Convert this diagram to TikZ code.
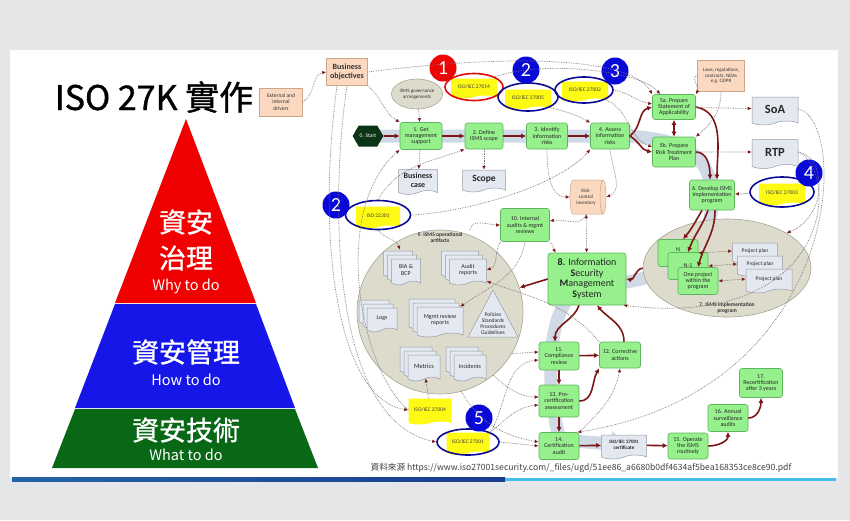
\documentclass[tikz,border=0pt]{standalone}
\usepackage{fontspec}
\setmainfont{Carlito}
\newfontfamily\cjk{Noto Sans CJK TC}
\newfontfamily\cjkmed[FakeBold=1]{Noto Sans CJK TC}
\usetikzlibrary{arrows.meta,shapes.geometric,shapes.symbols,shadows,positioning}

\definecolor{slidegray}{RGB}{229,230,232}
\definecolor{pyrred}{RGB}{240,0,0}
\definecolor{pyrblue}{RGB}{22,22,232}
\definecolor{pyrgreen}{RGB}{8,104,22}
\definecolor{procgreen}{RGB}{150,240,140}
\definecolor{procedge}{RGB}{95,180,95}
\definecolor{startgreen}{RGB}{12,52,22}
\definecolor{flowred}{RGB}{125,22,22}
\definecolor{dotgray}{RGB}{125,115,115}
\definecolor{peach}{RGB}{250,217,192}
\definecolor{peachedge}{RGB}{205,165,135}
\definecolor{docfill}{RGB}{228,232,240}
\definecolor{docedge}{RGB}{150,155,165}
\definecolor{isoyellow}{RGB}{255,250,20}
\definecolor{ringblue}{RGB}{12,12,150}
\definecolor{ringred}{RGB}{225,10,10}
\definecolor{badgeblue}{RGB}{8,8,215}
\definecolor{badgered}{RGB}{235,5,5}
\definecolor{ellfill}{RGB}{220,219,204}
\definecolor{elledge}{RGB}{165,165,150}
\definecolor{bandgray}{RGB}{208,218,230}
\definecolor{linedark}{RGB}{25,60,140}
\definecolor{linelight}{RGB}{65,190,235}

\begin{document}
\begin{tikzpicture}[x=1pt,y=1pt,
    procbox/.style={rectangle, rounded corners=2.5pt, draw=procedge, fill=procgreen, line width=0.6pt,
      align=center, inner sep=1pt, minimum width=40pt, minimum height=26pt, text=black!85,
      font=\fontsize{6}{6.4}\selectfont},
    peachbox/.style={rectangle, draw=peachedge, fill=peach, line width=0.5pt, align=center,
      inner sep=1pt, text=black!80, font=\fontsize{5.5}{6.3}\selectfont},
    docbox/.style={tape, tape bend top=none, tape bend bottom=in and out, tape bend height=4pt,
      draw=docedge, fill=docfill, line width=0.5pt, align=center, inner sep=1pt, text=black!85,
      font=\fontsize{6}{6.5}\selectfont},
    stackdoc/.style={docbox, double copy shadow={shadow xshift=-4pt, shadow yshift=4pt,
      fill=docfill, draw=docedge, line width=0.5pt}},
    isodoc/.style={tape, tape bend top=none, tape bend bottom=in and out, tape bend height=3pt,
      fill=isoyellow, draw=none, align=center, inner sep=1pt, text=black!75,
      font=\fontsize{5.5}{6}\selectfont},
    ring/.style={ellipse, draw=ringblue, line width=1.6pt, inner sep=0pt},
    badge/.style={circle, fill=badgeblue, text=white, minimum size=27pt, inner sep=0pt,
      font=\fontsize{20}{20}\selectfont},
    grayell/.style={ellipse, draw=elledge, fill=ellfill, line width=0.6pt, inner sep=0pt},
    pyrtext/.style={text=white, font=\cjkmed\fontsize{27}{30}\selectfont},
    pyrsub/.style={text=white, font=\cjk\fontsize{14.5}{16}\selectfont},
    flow/.style={draw=flowred, line width=1.6pt, -{Latex[length=5pt,width=5pt]}},
    info/.style={draw=dotgray, densely dotted, line width=0.7pt,
      -{Latex[length=4pt,width=3.5pt,color=flowred]}},
    infoboth/.style={info, {Latex[length=4pt,width=3.5pt,color=flowred]}-{Latex[length=4pt,width=3.5pt,color=flowred]}}]

  % Slide
  \useasboundingbox (0,0) rectangle (850,-520);
  \fill[slidegray] (0,0) rectangle (850,-520);
  \fill[white] (10,-50) rectangle (838,-478);
  \shade[left color=linedark!70!linelight, right color=linedark] (12,-477.5) rectangle (505,-481);
  \fill[linelight] (505,-477.5) rectangle (836,-481);

  % Title and pyramid
  \node[font=\cjkmed\fontsize{34}{36}\selectfont] (title) at (154,-97) {ISO 27K 實作};
  \fill[pyrred] (186,-119) -- (256,-303) -- (115,-303) -- cycle;
  \fill[pyrblue] (115,-304) -- (256,-304) -- (295,-408) -- (75,-408) -- cycle;
  \fill[pyrgreen] (75,-409) -- (295,-409) -- (318,-468) -- (52,-468) -- cycle;
  \node[pyrtext] (gov1) at (186,-222) {資安};
  \node[pyrtext] (gov2) at (186,-258) {治理};
  \node[pyrsub] (why) at (186,-286) {Why to do};
  \node[pyrtext] (mgmt1) at (186,-352) {資安管理};
  \node[pyrsub] (how) at (186,-380) {How to do};
  \node[pyrtext] (tech1) at (186,-430) {資安技術};
  \node[pyrsub] (what) at (186,-455) {What to do};

  % Flow band
  \draw[bandgray, line width=13pt, -{Triangle[length=14pt,width=26pt]}]
    (355,-136) -- (615,-136) .. controls (690,-136) and (712,-160) .. (712,-200)
    .. controls (712,-270) and (640,-285) .. (587,-285)
    .. controls (540,-300) and (548,-400) .. (560,-440) -- (625,-445);

  % Big ellipses
  \node[grayell, minimum width=166pt, minimum height=164pt] (artif) at (440,-312) {};
  \node[font=\bfseries\fontsize{5.5}{6}\selectfont, align=center, text=black!80] (artiflbl) at (440,-238) {9. ISMS operational\\artifacts};
  \node[grayell, minimum width=168pt, minimum height=98pt] (impl) at (727,-268) {};
  \node[font=\bfseries\fontsize{5.5}{6.5}\selectfont, align=center, text=black!80] (impllbl) at (727,-308) {7. ISMS implementation\\program};

  % Sources
  \node[peachbox, minimum width=43pt, minimum height=28pt] (drivers) at (281,-102) {External and\\internal\\drivers};
  \node[peachbox, minimum width=41pt, minimum height=27pt, font=\bfseries\fontsize{8}{8.5}\selectfont] (bizobj) at (347,-72) {Business\\objectives};
  \node[peachbox, minimum width=47pt, minimum height=31pt, font=\fontsize{5}{5.6}\selectfont] (laws) at (721,-76) {Laws, regulations,\\contracts, NDAs\\e.g. GDPR};
  \node[grayell, minimum width=51pt, minimum height=30pt, align=center, font=\fontsize{5}{5.8}\selectfont, text=black!80] (gov) at (417,-94) {ISMS governance\\arrangements};

  % Process steps
  \node[signal, signal to=west and east, signal pointer angle=120, fill=startgreen, text=white,
    minimum width=30pt, minimum height=21pt, inner sep=1pt, font=\fontsize{5.5}{6}\selectfont] (start) at (368,-136) {0. Start};
  \node[procbox, minimum width=42pt, minimum height=27pt] (s1) at (421,-136) {1. Get\\management\\support};
  \node[procbox, minimum width=38pt] (s2) at (484,-136) {2. Define\\ISMS scope};
  \node[procbox, minimum width=41pt] (s3) at (547,-136) {3. Identify\\information\\risks};
  \node[procbox, minimum width=39pt] (s4) at (610,-136) {4. Assess\\information\\risks};
  \node[procbox, minimum width=43pt, minimum height=25pt] (s5a) at (674,-107) {5a. Prepare\\Statement of\\Applicability};
  \node[procbox, minimum width=43pt, minimum height=30pt] (s5b) at (674,-152) {5b. Prepare\\Risk Treatment\\Plan};
  \node[procbox, minimum width=45pt, minimum height=30pt] (s6) at (712,-195) {6. Develop ISMS\\implementation\\program};
  \node[procbox, minimum width=40pt, minimum height=27pt] (pn) at (678,-253) {N\\\mbox{}};
  \node[procbox, minimum width=40pt, minimum height=27pt] (pn1) at (688,-266) {N-1};
  \node[procbox, minimum width=40pt, minimum height=27pt] (pone) at (698,-281) {One project\\within the\\program};
  \node[procbox, minimum width=49pt, minimum height=33pt] (s10) at (525,-225) {10. Internal\\audits \& mgmt\\reviews};
  \node[procbox, minimum width=78pt, minimum height=52pt, font=\fontsize{10}{10.5}\selectfont] (s8) at (587,-279)
    {\textbf{8.} Information\\\textbf{S}ecurity\\\textbf{M}anagement\\\textbf{S}ystem};
  \node[procbox, minimum height=28pt] (s11) at (559,-356) {11.\\Compliance\\review};
  \node[procbox, minimum width=41pt] (s12) at (620,-355) {12. Corrective\\actions};
  \node[procbox, minimum height=32pt] (s13) at (559,-401) {13. Pre-\\certification\\assessment};
  \node[procbox, minimum height=27pt] (s14) at (559,-446) {14.\\Certification\\audit};
  \node[procbox] (s15) at (688,-446) {15. Operate\\the ISMS\\routinely};
  \node[procbox, minimum height=27pt] (s16) at (728,-418) {16. Annual\\surveillance\\audits};
  \node[procbox, minimum width=43pt, minimum height=29pt] (s17) at (761,-383) {17.\\Recertification\\after 3 years};

  % Documents
  \node[docbox, minimum width=39pt, minimum height=25pt, font=\bfseries\fontsize{8}{8.5}\selectfont] (bizcase) at (418,-180) {Business\\case};
  \node[docbox, minimum width=43pt, minimum height=22pt, font=\bfseries\fontsize{9.5}{10}\selectfont] (scope) at (484,-179) {Scope};
  \node[docbox, minimum width=46pt, minimum height=28pt, font=\bfseries\fontsize{12.5}{13}\selectfont] (soa) at (775,-109) {SoA};
  \node[docbox, minimum width=46pt, minimum height=29pt, font=\bfseries\fontsize{12.5}{13}\selectfont] (rtp) at (775,-152) {RTP};
  \node[docbox, minimum width=45pt, minimum height=24pt, font=\bfseries\fontsize{5}{6}\selectfont] (cert) at (624,-445) {ISO/IEC 27001\\certificate};
  \node[docbox, minimum width=45pt, minimum height=20pt, font=\fontsize{5.5}{6}\selectfont] (pp1) at (755,-251) {Project plan};
  \node[docbox, minimum width=45pt, minimum height=20pt, font=\fontsize{5.5}{6}\selectfont] (pp2) at (760,-264) {Project plan};
  \node[docbox, minimum width=46pt, minimum height=24pt, font=\fontsize{5.5}{6}\selectfont] (pp3) at (769,-279) {Project plan};
  \node[cylinder, shape aspect=0.35, draw=peachedge, fill=peach, line width=0.5pt, align=center, inner sep=0.5pt,
    minimum width=34pt, minimum height=36pt, text=black!80, font=\fontsize{5}{5.8}\selectfont] (rci) at (586,-197) {Risk-\\control\\inventory};

  % Operational artifacts
  \node[stackdoc, minimum width=29pt, minimum height=26pt] (bia) at (406,-270) {BIA \&\\BCP};
  \node[stackdoc, minimum width=37pt, minimum height=26pt] (audit) at (468,-270) {Audit\\reports};
  \node[stackdoc, minimum width=30pt, minimum height=24pt] (logs) at (382,-318) {Logs};
  \node[stackdoc, minimum width=46pt, minimum height=30pt] (mgmt) at (440,-320) {Mgmt review\\reports};
  \node[stackdoc, minimum width=32pt, minimum height=26pt, font=\fontsize{6.5}{7}\selectfont] (metrics) at (424,-366) {Metrics};
  \node[stackdoc, minimum width=32pt, minimum height=26pt] (incid) at (470,-366) {Incidents};
  \draw[draw=docedge, fill=docfill, line width=0.5pt] (493,-290) -- (518,-337) -- (468,-337) -- cycle;
  \node[align=center, font=\fontsize{5.5}{6}\selectfont, text=black!85] (policies) at (493,-324) {Policies\\Standards\\Procedures\\Guidelines};

  % ISO standards
  \node[isodoc, minimum width=46pt, minimum height=20pt] (iso14) at (474,-87) {ISO/IEC 27014};
  \node[isodoc, minimum width=46pt, minimum height=20pt] (iso05) at (528,-98) {ISO/IEC 27005};
  \node[isodoc, minimum width=46pt, minimum height=20pt] (iso02) at (585,-90) {ISO/IEC 27002};
  \node[isodoc, minimum width=46pt, minimum height=22pt] (iso03) at (782,-193) {ISO/IEC 27003};
  \node[isodoc, minimum width=44pt, minimum height=22pt] (iso22301) at (378,-216) {ISO 22301};
  \node[isodoc, minimum width=43pt, minimum height=26pt] (iso04) at (430,-410) {ISO/IEC 27004};
  \node[isodoc, minimum width=43pt, minimum height=22pt] (iso01) at (468,-442) {ISO/IEC 27001};
  \node[ring, draw=ringred, minimum width=58pt, minimum height=27pt] (ring14) at (474,-87) {};
  \node[ring, minimum width=60pt, minimum height=28pt] (ring05) at (528,-97) {};
  \node[ring, minimum width=58pt, minimum height=26pt] (ring02) at (584,-90) {};
  \node[ring, minimum width=64pt, minimum height=30pt] (ring03) at (782,-192) {};
  \node[ring, minimum width=65pt, minimum height=29pt] (ring22301) at (378,-215) {};
  \node[ring, minimum width=62pt, minimum height=26pt] (ring01) at (468,-442) {};
  \node[badge, fill=badgered] (b1) at (443,-68) {1};
  \node[badge] (b2) at (526,-70) {2};
  \node[badge] (b3) at (615,-71) {3};
  \node[badge] (b4) at (809,-173) {4};
  \node[badge] (b2b) at (336,-205) {2};
  \node[badge] (b5) at (479,-418) {5};

  % Main flow
  \draw[flow] (start) -- (s1);
  \draw[flow] (s1) -- (s2);
  \draw[flow] (s2) -- (s3);
  \draw[flow] (s3) -- (s4);
  \draw[flow] (s4.east) to[out=35,in=195] (s5a.west);
  \draw[flow] (s4.east) to[out=-30,in=170] (s5b.west);
  \draw[flow, {Latex[length=5pt,width=5pt]}-{Latex[length=5pt,width=5pt]}] (s5a) -- (s5b);
  \draw[flow] (s5a.east) to[out=-10,in=90] ([xshift=5pt]s6.north);
  \draw[flow] (s5b.east) to[out=0,in=90] ([xshift=-2pt]s6.north);
  \draw[flow] ([xshift=-10pt]s6.south) to[out=-120,in=50] ([xshift=5pt]pn.north);
  \draw[flow] ([xshift=-4pt]s6.south) to[out=-110,in=70] (pn1.north);
  \draw[flow] ([xshift=3pt]s6.south) to[out=-90,in=75] (pone.north);
  \draw[flow] (impl.west) to[out=190,in=-10] (s8.east);
  \draw[flow] (s8.west) -- (artif);
  \draw[flow] ([xshift=-8pt]s8.south) to[out=-110,in=90] ([xshift=-4pt]s11.north);
  \draw[flow] ([xshift=4pt]s12.north) to[out=90,in=-50] ([xshift=10pt]s8.south);
  \draw[flow] (s11) -- (s12);
  \draw[flow] (s11) -- (s13);
  \draw[flow] (s13.east) to[out=0,in=-120] (s12.south west);
  \draw[flow] (s13) -- (s14);
  \draw[flow] (s14) -- (cert);
  \draw[flow] (cert) -- (s15);
  \draw[flow] (s15.east) to[out=0,in=-90] (s16.south);
  \draw[flow] (s16.east) to[out=0,in=-90] (s17.south);

  % Information links
  \draw[info] (drivers.east) to[out=30,in=190] (bizobj.west);
  \draw[info] (bizobj.south east) to[out=-40,in=150] (s1.north west);
  \draw[info] (gov) -- (s1);
  \draw[info] (bizobj.east) .. controls (500,-55) and (630,-55) .. (s5a.north west);
  \draw[info] (ring14.north east) .. controls (540,-60) and (640,-70) .. ([xshift=8pt]s5a.north west);
  \draw[info] (ring05.south east) to[out=-15,in=150] (s4.north west);
  \draw[info] (ring02.east) to[out=-10,in=170] ([yshift=3pt]s5a.west);
  \draw[info] (ring02.south east) to[out=-20,in=160] ([yshift=5pt]s5b.west);
  \draw[info] (laws.west) to[out=180,in=60] (s5a.north east);
  \draw[info] (laws.south) to[out=-90,in=40] (s5b.north east);
  \draw[info] (s5a) -- (soa);
  \draw[info] (s5b) -- (rtp);
  \draw[info] (soa.east) .. controls (850,-120) and (845,-390) .. ([xshift=-2pt]s14.north east);
  \draw[info] (rtp.east) .. controls (825,-155) and (830,-215) .. (impl.north east);
  \draw[info] (rtp.east) .. controls (840,-170) and (835,-330) .. ([xshift=-3pt]s8.south east);
  \draw[info] (s1) -- (bizcase);
  \draw[info] (s2) -- (scope);
  \draw[info] (s3.south) to[out=-90,in=180] (rci.west);
  \draw[info] (s4.south) to[out=-85,in=20] (rci.east);
  \draw[info] (rci.south) to[out=-110,in=10] ([yshift=4pt]s10.east);
  \draw[infoboth] (rci) -- (s8);
  \draw[info] (s10.south east) to[out=-40,in=120] ([xshift=8pt]s8.north west);
  \draw[info] (s10.south west) to[out=-120,in=20] (audit.east);
  \draw[info] (s10.south) to[out=-100,in=35] ([xshift=-3pt]mgmt.north east);
  \draw[info] (ring03) -- (s6);
  \draw[info] (ring22301.south) to[out=-50,in=110] ([shift={(-6pt,9pt)}]bia.north);
  \draw[info] (ring22301.east) .. controls (470,-212) and (560,-185) .. (s4.south west);
  \draw[info] ([xshift=30pt]artif.north) to[out=80,in=180] (s10.west);
  \draw[info] (iso04) -- (metrics);
  \draw[info] (ring01.east) -- (s14.west);
  \draw[info] (ring01.north east) to[out=60,in=185] ([yshift=-4pt]s11.west);
  \draw[info] (ring01.north east) to[out=40,in=185] ([yshift=-4pt]s13.west);
  \draw[info] (artif.-30) -- ([yshift=4pt]s11.west);
  \draw[info] (artif.-50) to[out=-40,in=180] ([yshift=4pt]s13.west);
  \draw[info] (artif.-75) to[out=-60,in=170] ([yshift=4pt]s14.west);
  \draw[info] (s12.north west) to[out=130,in=-20] (audit.south east);
  \draw[info] (s14.north east) to[out=45,in=-100] (s12.south);
  \draw[info] (bizobj.south) .. controls (330,-200) and (330,-420) .. (ring01.west);
  \draw[info] ([xshift=-10pt]bizobj.south) .. controls (315,-250) and (340,-400) .. (iso04.west);
  \draw[info] (iso04.west) .. controls (360,-370) and (330,-210) .. (s1.south west);
  \draw[info] (ring22301.north) to[out=60,in=200] (s2.south west);
  \draw[infoboth] (pn.east) -- (pp1.west);
  \draw[infoboth] (pn1.east) -- (pp2.west);
  \draw[infoboth] (pone.east) -- (pp3.west);

  % Source
  \node[font=\cjk\fontsize{8.6}{9}\selectfont, text=black!75] (src) at (581,-468)
    {資料來源 https://www.iso27001security.com/\_files/ugd/51ee86\_a6680b0df4634af5bea168353ce8ce90.pdf};
\end{tikzpicture}
\end{document}
